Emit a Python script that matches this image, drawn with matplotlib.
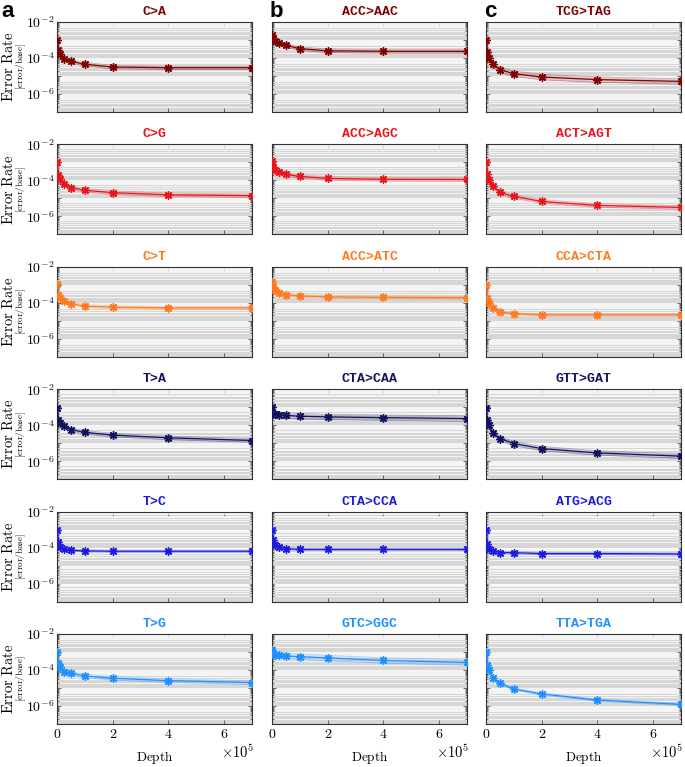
import numpy as np
import matplotlib
matplotlib.use("Agg")
import matplotlib.pyplot as plt
from matplotlib.ticker import FixedLocator, FuncFormatter, LogLocator, NullFormatter

plt.rcParams['mathtext.fontset'] = 'cm'

# sequencing depth of each point
depth = [1e3, 5e3, 1e4, 2.5e4, 5e4, 1e5, 2e5, 4e5, 7e5]

# panel titles, column by column (a: single base, b/c: trinucleotide contexts)
titles_a = ["C>A", "C>G", "C>T", "T>A", "T>C", "T>G"]
titles_b = ["ACC>AAC", "ACC>AGC", "ACC>ATC", "CTA>CAA", "CTA>CCA", "GTC>GGC"]
titles_c = ["TCG>TAG", "ACT>AGT", "CCA>CTA", "GTT>GAT", "ATG>ACG", "TTA>TGA"]

row_colors = ["#800000", "#e8161b", "#ff7a1f", "#12125e", "#1c1ce0", "#1e90ff"]

# log10 error rates
logerr_a = [
    [-2.98, -3.57, -3.76, -4.04, -4.19, -4.35, -4.50, -4.54, -4.54],
    [-3.00, -3.70, -3.95, -4.20, -4.40, -4.55, -4.68, -4.80, -4.85],
    [-2.93, -3.54, -3.72, -3.91, -4.04, -4.19, -4.24, -4.28, -4.28],
    [-3.02, -3.69, -3.85, -4.06, -4.24, -4.40, -4.55, -4.70, -4.85],
    [-3.00, -3.70, -3.95, -4.10, -4.15, -4.18, -4.20, -4.20, -4.20],
    [-3.02, -3.63, -3.81, -4.09, -4.19, -4.33, -4.46, -4.59, -4.70],
]
logerr_b = [
    [-2.75, -2.95, -3.05, -3.15, -3.30, -3.48, -3.60, -3.63, -3.63],
    [-2.95, -3.28, -3.45, -3.55, -3.67, -3.78, -3.89, -3.94, -3.95],
    [-2.85, -3.10, -3.30, -3.45, -3.55, -3.62, -3.67, -3.70, -3.72],
    [-2.98, -3.38, -3.40, -3.43, -3.46, -3.50, -3.54, -3.58, -3.63],
    [-3.00, -3.60, -3.83, -3.94, -4.06, -4.10, -4.10, -4.10, -4.10],
    [-2.89, -3.12, -3.16, -3.19, -3.22, -3.26, -3.33, -3.47, -3.58],
]
logerr_c = [
    [-2.98, -3.67, -3.98, -4.35, -4.65, -4.87, -5.06, -5.20, -5.30],
    [-3.00, -3.67, -4.00, -4.33, -4.67, -4.89, -5.17, -5.39, -5.50],
    [-3.00, -3.72, -4.00, -4.28, -4.50, -4.60, -4.67, -4.67, -4.67],
    [-3.04, -3.72, -4.00, -4.41, -4.74, -5.02, -5.30, -5.54, -5.72],
    [-3.00, -3.78, -4.06, -4.17, -4.28, -4.28, -4.33, -4.33, -4.35],
    [-3.02, -3.72, -4.00, -4.43, -4.74, -5.06, -5.33, -5.67, -5.91],
]
# half width of the shaded band (log10 units) per panel
spread_a = [0.10, 0.10, 0.08, 0.10, 0.06, 0.10]
spread_b = [0.10, 0.10, 0.08, 0.15, 0.06, 0.15]
spread_c = [0.15, 0.10, 0.06, 0.12, 0.06, 0.06]

W, H = 685, 767
fig = plt.figure(figsize=(W / 100, H / 100), dpi=100)

col_left = [57, 272, 486]
ax_w, ax_h = 195, 90
row_top = [22 + 122.4 * r for r in range(6)]

cols = [(titles_a, logerr_a, spread_a), (titles_b, logerr_b, spread_b), (titles_c, logerr_c, spread_c)]

def ytick_fmt(v, pos):
    e = int(round(np.log10(v)))
    if e in (-2, -4, -6):
        return r'$10^{%d}$' % e
    return ''

for ci, (titles, logerr, spread) in enumerate(cols):
    for ri in range(6):
        ax = fig.add_axes([col_left[ci] / W, 1 - (row_top[ri] + ax_h) / H, ax_w / W, ax_h / H])
        c = row_colors[ri]
        y = 10 ** np.array(logerr[ri])
        lo = 10 ** (np.array(logerr[ri]) - spread[ri])
        hi = 10 ** (np.array(logerr[ri]) + spread[ri])
        ax.set_facecolor('#d6d6d6')
        ax.fill_between(depth, lo, hi, color=c, alpha=0.18, lw=0, zorder=2)
        ax.plot(depth, lo, color=c, alpha=0.35, lw=0.5, zorder=2)
        ax.plot(depth, hi, color=c, alpha=0.35, lw=0.5, zorder=2)
        ax.plot(depth, y, color=c, lw=0.9, marker=(8, 2, 0), ms=6, mew=1.0, zorder=3)
        ax.set_yscale('log')
        ax.set_ylim(1e-7, 1e-2)
        ax.set_xlim(0, 7e5)
        ax.yaxis.set_major_locator(LogLocator(base=10, numticks=10))
        ax.yaxis.set_minor_locator(LogLocator(base=10, subs=np.arange(2, 10), numticks=10))
        ax.yaxis.set_minor_formatter(NullFormatter())
        ax.grid(which='both', axis='y', color='white', lw=0.6, alpha=0.9, zorder=1)
        ax.set_axisbelow(True)
        ax.xaxis.set_major_locator(FixedLocator([0, 2e5, 4e5, 6e5]))
        ax.tick_params(which='both', direction='in', top=True, right=True, width=0.5, color='#333333')
        ax.tick_params(which='major', length=3)
        ax.tick_params(which='minor', length=1.5)
        ax.tick_params(axis='both', labelsize=10, pad=2)
        for s in ax.spines.values():
            s.set_color('#333333')
            s.set_linewidth(0.8)
        if ci == 0:
            ax.yaxis.set_major_formatter(FuncFormatter(ytick_fmt))
            ax.text(-0.25, 0.5, r'$\mathrm{Error\ Rate}$', transform=ax.transAxes,
                    rotation=90, ha='center', va='center', fontsize=10.5)
            ax.text(-0.185, 0.5, r'$\mathrm{[error/base]}$', transform=ax.transAxes,
                    rotation=90, ha='center', va='center', fontsize=6.5)
        else:
            ax.set_yticklabels([])
        if ri == 5:
            ax.xaxis.set_major_formatter(FuncFormatter(lambda v, p: r'$%d$' % round(v / 1e5)))
            ax.text(0.5, -0.37, r'$\mathrm{Depth}$', transform=ax.transAxes,
                    ha='center', va='center', fontsize=9.5)
            ax.text(1.01, -0.215, r'$\times10^5$', transform=ax.transAxes,
                    ha='right', va='top', fontsize=10.5)
        else:
            ax.set_xticklabels([])
        ax.set_title(titles[ri], color=c, fontsize=9.5, fontweight='bold',
                     family='Liberation Mono', pad=5)

for lx, lab in zip([1, 270, 484], ['a', 'b', 'c']):
    fig.text(lx / W, 1 - 1 / H, lab, fontsize=16, fontweight='bold',
             family='Liberation Sans', ha='left', va='top')

fig.savefig('out.png', dpi=100)
